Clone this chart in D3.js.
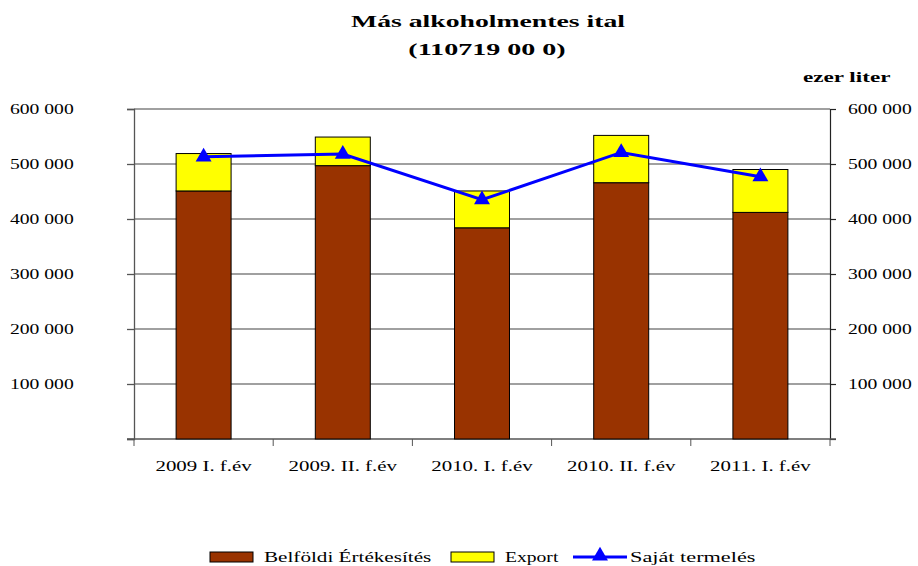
<!DOCTYPE html>
<html>
<head>
<meta charset="utf-8">
<script src="https://cdn.jsdelivr.net/npm/d3@7"></script>
<style>
  body { margin: 0; background: #fff; }
</style>
</head>
<body>
<div id="app"></div>
<script>
const categories = ['2009 I. f.év', '2009. II. f.év', '2010. I. f.év', '2010. II. f.év', '2011. I. f.év'];
const belfoldi = [451000, 497000, 384000, 466000, 412000];
const exportVals = [68000, 52000, 67000, 86000, 78000];
const sajat = [513000, 518000, 435000, 521000, 477000];
const yTicks = [100000, 200000, 300000, 400000, 500000, 600000];

const width = 918, height = 566;
const plot = { left: 134, right: 830, top: 109, bottom: 439 };
const serif = "'Liberation Serif', 'Times New Roman', serif";

const svg = d3.select('#app').append('svg')
  .attr('width', width).attr('height', height)
  .attr('font-family', serif);

// the original text is drawn wide, so stretch each label horizontally
function widen(sel, k) {
  sel.attr('font-family', serif).each(function () {
    const w = this.getComputedTextLength();
    d3.select(this).attr('textLength', w * k).attr('lengthAdjust', 'spacingAndGlyphs');
  });
  return sel;
}

const x = d3.scaleBand().domain(categories).range([plot.left, plot.right]);
const y = d3.scaleLinear().domain([0, 600000]).range([plot.bottom, plot.top]);
const barW = x.bandwidth() * 0.395;
const fmt = v => d3.format(',')(v).replace(/,/g, ' ');

// gridlines
svg.append('g').selectAll('line').data(yTicks).join('line')
  .attr('x1', plot.left).attr('x2', plot.right)
  .attr('y1', d => y(d)).attr('y2', d => y(d))
  .attr('stroke', '#808080').attr('stroke-width', 1.3);

// left axis
const left = svg.append('g').attr('transform', `translate(${plot.left},0)`)
  .call(d3.axisLeft(y).tickValues([0, ...yTicks]).tickSize(7).tickFormat(''));
left.select('.domain').attr('stroke', '#555').attr('stroke-width', 1.3);
left.selectAll('.tick line').attr('stroke', '#555').attr('stroke-width', 1.3);

// right axis
const right = svg.append('g').attr('transform', `translate(${plot.right},0)`)
  .call(d3.axisRight(y).tickValues([0, ...yTicks]).tickSize(6).tickFormat(''));
right.select('.domain').attr('stroke', '#222').attr('stroke-width', 1.2);
right.selectAll('.tick line').attr('stroke', '#222').attr('stroke-width', 1.2);

// tick labels
widen(svg.append('g').selectAll('text').data(yTicks).join('text')
  .attr('x', 10).attr('y', d => y(d) + 5)
  .attr('font-size', 14).text(fmt), 1.4);
widen(svg.append('g').selectAll('text').data(yTicks).join('text')
  .attr('x', 848).attr('y', d => y(d) + 5)
  .attr('font-size', 14).text(fmt), 1.4);

// bottom axis
svg.append('line')
  .attr('x1', plot.left - 7).attr('x2', plot.right + 6)
  .attr('y1', plot.bottom).attr('y2', plot.bottom)
  .attr('stroke', '#555').attr('stroke-width', 1.3);
const bounds = categories.map(c => x(c)).concat([plot.right]);
svg.append('g').selectAll('line').data(bounds).join('line')
  .attr('x1', d => d).attr('x2', d => d)
  .attr('y1', plot.bottom).attr('y2', plot.bottom + 7)
  .attr('stroke', '#555').attr('stroke-width', 1);

widen(svg.append('g').selectAll('text').data(categories).join('text')
  .attr('x', d => x(d) + x.bandwidth() / 2).attr('y', 471)
  .attr('text-anchor', 'middle').attr('font-size', 14).text(d => d), 1.49);

// bars
svg.append('g').selectAll('rect').data(categories).join('rect')
  .attr('x', d => x(d) + (x.bandwidth() - barW) / 2)
  .attr('y', (d, i) => y(belfoldi[i]))
  .attr('width', barW)
  .attr('height', (d, i) => y(0) - y(belfoldi[i]))
  .attr('fill', '#993300').attr('stroke', '#000').attr('stroke-width', 1);

svg.append('g').selectAll('rect').data(categories).join('rect')
  .attr('x', d => x(d) + (x.bandwidth() - barW) / 2)
  .attr('y', (d, i) => y(belfoldi[i] + exportVals[i]))
  .attr('width', barW)
  .attr('height', (d, i) => y(belfoldi[i]) - y(belfoldi[i] + exportVals[i]))
  .attr('fill', '#ffff00').attr('stroke', '#000').attr('stroke-width', 1);

// line
const cx = d => x(d) + x.bandwidth() / 2;
svg.append('path')
  .datum(categories)
  .attr('fill', 'none').attr('stroke', '#0000ff').attr('stroke-width', 3)
  .attr('d', d3.line().x(cx).y((d, i) => y(sajat[i])));

const tri = d3.symbol().type(d3.symbolTriangle).size(110);
svg.append('g').selectAll('path').data(categories).join('path')
  .attr('transform', (d, i) => `translate(${cx(d)},${y(sajat[i])})`)
  .attr('d', tri).attr('fill', '#0000ff');

// titles
widen(svg.append('text').attr('x', 488).attr('y', 27)
  .attr('text-anchor', 'middle').attr('font-size', 17).attr('font-weight', 'bold')
  .text('Más alkoholmentes ital'), 1.63);
widen(svg.append('text').attr('x', 487).attr('y', 55)
  .attr('text-anchor', 'middle').attr('font-size', 17).attr('font-weight', 'bold')
  .text('(110719 00 0)'), 1.65);
widen(svg.append('text').attr('x', 803).attr('y', 82)
  .attr('font-size', 14).attr('font-weight', 'bold').text('ezer liter'), 1.65);

// legend
const lg = svg.append('g');
lg.append('rect').attr('x', 210).attr('y', 552).attr('width', 43).attr('height', 10)
  .attr('fill', '#993300').attr('stroke', '#000');
widen(lg.append('text').attr('x', 264).attr('y', 562).attr('font-size', 14).text('Belföldi Értékesítés'), 1.51);
lg.append('rect').attr('x', 451).attr('y', 552).attr('width', 43).attr('height', 10)
  .attr('fill', '#ffff00').attr('stroke', '#000');
widen(lg.append('text').attr('x', 505).attr('y', 562).attr('font-size', 14).text('Export'), 1.4);
lg.append('line').attr('x1', 573).attr('x2', 627).attr('y1', 557).attr('y2', 557)
  .attr('stroke', '#0000ff').attr('stroke-width', 3);
lg.append('path').attr('transform', 'translate(600,556)').attr('d', tri).attr('fill', '#0000ff');
widen(lg.append('text').attr('x', 630).attr('y', 562).attr('font-size', 14).text('Saját termelés'), 1.59);
</script>
</body>
</html>
